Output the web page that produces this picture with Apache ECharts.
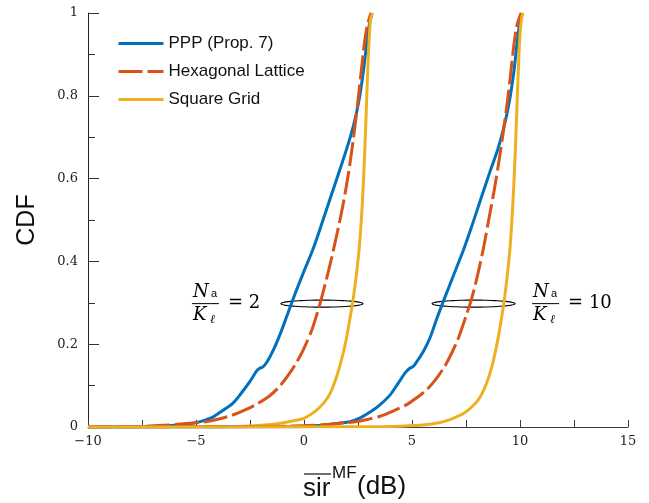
<!DOCTYPE html>
<html>
<head>
<meta charset="utf-8">
<script src="https://cdn.jsdelivr.net/npm/echarts@6/dist/echarts.min.js"></script>
<style>
html,body{margin:0;padding:0;background:#fff;}
#chart{width:649px;height:503px;}
</style>
</head>
<body>
<div id="chart"></div>
<script>
// ---- Data (x = SIR in dB, y = CDF) ----
const legendNames = ['PPP (Prop. 7)', 'Hexagonal Lattice', 'Square Grid'];

const pppRatio2 = [[-10,0],[-8,0.0005],[-7,0.0015],[-6,0.004],[-5.3,0.008],[-4.8,0.013],[-4.3,0.022],[-3.9,0.035],[-3.3,0.057],[-2.9,0.082],[-2.5,0.11],[-2.2,0.135],[-2.05,0.142],[-1.9,0.145],[-1.7,0.158],[-1.4,0.188],[-1.1,0.225],[-0.8,0.267],[-0.5,0.31],[-0.05,0.37],[0.42,0.43],[0.85,0.495],[1.25,0.558],[1.65,0.62],[2.0,0.676],[2.3,0.73],[2.55,0.79],[2.75,0.86],[2.9,0.925],[3.02,0.97],[3.15,1.0]];
const hexRatio2 = [[-10,0],[-8.5,0.0008],[-7.5,0.0015],[-6.5,0.004],[-5.7,0.007],[-5,0.01],[-4.5,0.013],[-3.9,0.02],[-3.3,0.029],[-2.7,0.042],[-2.2,0.055],[-1.6,0.075],[-1.1,0.1],[-0.6,0.135],[-0.3,0.16],[0,0.19],[0.4,0.24],[0.75,0.3],[1.15,0.38],[1.5,0.46],[1.8,0.535],[2.05,0.61],[2.27,0.69],[2.46,0.77],[2.63,0.85],[2.78,0.92],[2.93,0.97],[3.1,1.0]];
const sqRatio2 = [[-10,0],[-5,0.0005],[-3,0.0015],[-2,0.004],[-1,0.01],[-0.3,0.017],[0,0.021],[0.5,0.037],[0.9,0.057],[1.2,0.08],[1.5,0.12],[1.75,0.165],[1.95,0.21],[2.12,0.26],[2.28,0.31],[2.43,0.37],[2.57,0.44],[2.7,0.54],[2.8,0.65],[2.88,0.76],[2.95,0.86],[3.03,0.95],[3.1,0.99],[3.18,1.0]];

const pppRatio10 = [[-10,0],[-1,0.0005],[0,0.0015],[1,0.005],[1.6,0.009],[2.13,0.013],[2.6,0.022],[3.06,0.036],[3.5,0.053],[3.98,0.077],[4.35,0.105],[4.7,0.132],[4.9,0.142],[5.05,0.146],[5.25,0.16],[5.55,0.185],[5.83,0.215],[6.15,0.262],[6.5,0.31],[6.95,0.37],[7.4,0.43],[7.8,0.49],[8.2,0.553],[8.6,0.615],[8.98,0.672],[9.28,0.73],[9.52,0.79],[9.72,0.86],[9.86,0.925],[9.97,0.97],[10.08,1.0]];
const hexRatio10 = [[-10,0],[-2,0.001],[0,0.003],[1,0.006],[1.8,0.01],[2.44,0.013],[3.0,0.019],[3.52,0.026],[4.1,0.038],[4.75,0.054],[5.2,0.07],[5.68,0.09],[6.1,0.115],[6.53,0.148],[6.85,0.18],[7.15,0.215],[7.45,0.26],[7.76,0.31],[8.05,0.37],[8.3,0.43],[8.55,0.5],[8.8,0.57],[9.02,0.64],[9.22,0.71],[9.4,0.78],[9.56,0.85],[9.71,0.92],[9.86,0.97],[10.05,1.0]];
const sqRatio10 = [[-10,0],[2,0.0005],[4,0.0015],[5.5,0.005],[6.3,0.011],[6.9,0.021],[7.4,0.033],[7.84,0.052],[8.15,0.072],[8.45,0.105],[8.72,0.15],[8.95,0.205],[9.12,0.255],[9.28,0.31],[9.42,0.37],[9.55,0.44],[9.67,0.54],[9.77,0.65],[9.85,0.76],[9.92,0.86],[10.0,0.95],[10.08,0.99],[10.15,1.0]];

// annotation rings (data coordinates) and ratio labels
const ratioValues = ['2', '10'];
const ringCenterX = [0.83, 7.85];
const ringLevel = [0.298, 0.298];
const ringHalfWidth = [1.9, 1.92];
const ringHalfHeight = [0.0085, 0.0085];
const labelLeftX = [-5.19, 10.56];

// ---- Styles ----
const colors = ['#0072BD', '#D95319', '#EDB120'];
const serif = '"DejaVu Serif", "Liberation Serif", serif';
const sans = '"Liberation Sans", Arial, sans-serif';

const chart = echarts.init(document.getElementById('chart'), null, {renderer: 'canvas'});

function lineSeries(name, data, idx) {
  return {
    name: name,
    type: 'line',
    data: data,
    showSymbol: false,
    symbol: 'none',
    smooth: 0.3,
    clip: true,
    z: 3,
    lineStyle: {
      color: colors[idx],
      width: 3,
      type: idx === 1 ? [24, 5] : 'solid',
      cap: 'butt',
      join: 'round'
    },
    itemStyle: {color: colors[idx]},
    emphasis: {disabled: true},
    silent: true
  };
}

const annData = ratioValues.map((r, i) => [ringCenterX[i], ringLevel[i], ringHalfWidth[i], ringHalfHeight[i], labelLeftX[i], i]);

const option = {
  animation: false,
  backgroundColor: '#fff',
  grid: {left: 88, right: 21, top: 13, bottom: 76, containLabel: false},
  legend: {
    show: true,
    orient: 'vertical',
    left: 112,
    top: 30,
    itemWidth: 45,
    itemHeight: 14,
    itemGap: 11,
    itemStyle: {opacity: 0},
    lineStyle: {width: 3},
    data: legendNames,
    textStyle: {fontFamily: sans, fontSize: 17, color: '#111'}
  },
  xAxis: {
    type: 'value',
    min: -10,
    max: 15,
    interval: 2.5,
    axisLine: {show: true, onZero: false, lineStyle: {color: '#3a3a3a', width: 1}},
    axisTick: {show: true, inside: true, length: 7, lineStyle: {color: '#3a3a3a'}},
    axisLabel: {
      fontFamily: serif, fontSize: 13, color: '#222', margin: 8,
      formatter: v => (v % 5 === 0 ? (v < 0 ? '\u2212' + (-v) : String(v)) : '')
    },
    splitLine: {show: false}
  },
  yAxis: {
    type: 'value',
    min: 0,
    max: 1,
    interval: 0.2,
    name: 'CDF',
    nameLocation: 'middle',
    nameRotate: 90,
    nameGap: 48,
    nameTextStyle: {fontFamily: sans, fontSize: 25, color: '#111'},
    axisLine: {show: true, onZero: false, lineStyle: {color: '#222', width: 1}},
    axisTick: {show: true, inside: true, length: 11, lineStyle: {color: '#333'}},
    minorTick: {show: true, splitNumber: 2, length: 7, lineStyle: {color: '#333'}},
    axisLabel: {
      fontFamily: serif, fontSize: 13, color: '#222', margin: 10,
      formatter: v => (v === 0 ? '0' : v === 1 ? '1' : v.toFixed(1))
    },
    splitLine: {show: false}
  },
  graphic: [{
    type: 'group',
    silent: true,
    children: [
      {type: 'text', x: 303, y: 489, style: {text: 'sir', font: '26px ' + sans, fill: '#111', textVerticalAlign: 'middle'}},
      {type: 'line', shape: {x1: 304, y1: 474, x2: 331, y2: 474}, style: {stroke: '#111', lineWidth: 1.2}},
      {type: 'text', x: 332, y: 473, style: {text: 'MF', font: '17px ' + sans, fill: '#111', textVerticalAlign: 'middle'}},
      {type: 'text', x: 357, y: 487, style: {text: '(dB)', font: '26px ' + sans, fill: '#111', textVerticalAlign: 'middle'}}
    ]
  }],
  series: [
    {
      type: 'custom',
      name: 'annotations',
      coordinateSystem: 'cartesian2d',
      data: annData,
      z: 2,
      silent: true,
      clip: false,
      renderItem: function (params, api) {
        const c = api.coord([api.value(0), api.value(1)]);
        const s = api.size([api.value(2), api.value(3)]);
        const lp = api.coord([api.value(4), api.value(1)]);
        const idx = api.value(5);
        const pts = [];
        for (let k = 0; k <= 72; k++) {
          const a = k / 72 * Math.PI * 2;
          pts.push([c[0] + s[0] * Math.cos(a), c[1] + s[1] * Math.sin(a)]);
        }
        const x0 = lp[0], y0 = lp[1];
        return {
          type: 'group',
          children: [
            {type: 'polygon', shape: {points: pts}, style: {fill: null, stroke: '#000', lineWidth: 1.1}},
            {type: 'text', x: x0 + 1, y: y0 - 2, style: {text: 'N', font: 'italic 18px ' + serif, fill: '#000', textAlign: 'left', textVerticalAlign: 'bottom'}},
            {type: 'text', x: x0 + 19, y: y0 - 4, style: {text: 'a', font: '11px ' + sans, fill: '#000', textAlign: 'left', textVerticalAlign: 'bottom'}},
            {type: 'line', shape: {x1: x0, y1: y0, x2: x0 + 27, y2: y0}, style: {stroke: '#000', lineWidth: 1}},
            {type: 'text', x: x0 + 1, y: y0 + 3, style: {text: 'K', font: 'italic 18px ' + serif, fill: '#000', textAlign: 'left', textVerticalAlign: 'top'}},
            {type: 'text', x: x0 + 18, y: y0 + 10, style: {text: '\u2113', font: 'italic 12px ' + serif, fill: '#000', textAlign: 'left', textVerticalAlign: 'top'}},
            {type: 'text', x: x0 + 36, y: y0, style: {text: '= ' + ratioValues[idx], font: '18px ' + serif, fill: '#000', textAlign: 'left', textVerticalAlign: 'middle'}}
          ]
        };
      }
    },
    lineSeries(legendNames[0], pppRatio2, 0),
    lineSeries(legendNames[1], hexRatio2, 1),
    lineSeries(legendNames[2], sqRatio2, 2),
    lineSeries(legendNames[0], pppRatio10, 0),
    lineSeries(legendNames[1], hexRatio10, 1),
    lineSeries(legendNames[2], sqRatio10, 2)
  ]
};
chart.setOption(option);
</script>
</body>
</html>
